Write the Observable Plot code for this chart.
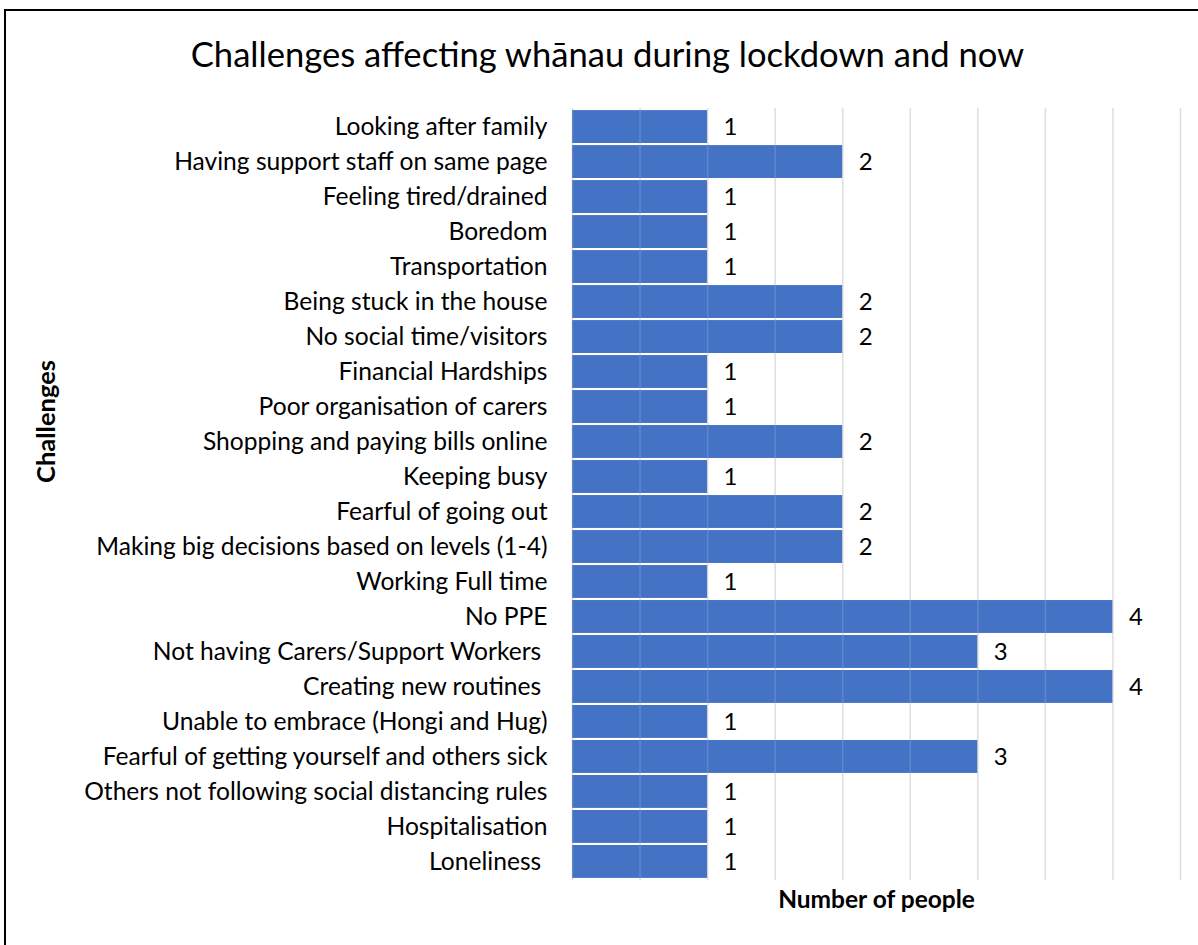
<!DOCTYPE html>
<html>
<head>
<meta charset="utf-8">
<script src="https://cdn.jsdelivr.net/npm/d3@7"></script>
<script src="https://cdn.jsdelivr.net/npm/@observablehq/plot@0.6"></script>
<style>
  html, body { margin: 0; padding: 0; background: #fff; }
  #wrap { position: relative; width: 1198px; height: 945px; overflow: hidden; }
  #border { position: absolute; left: 4px; top: 9px; width: 1300px; height: 1000px;
            border-left: 2px solid #000; border-top: 2px solid #000; pointer-events: none; }
  .ylab text { white-space: pre; }
</style>
</head>
<body>
<div id="wrap"><div id="border"></div></div>
<script>
const categories = [
  "Looking after family",
  "Having support staff on same page",
  "Feeling tired/drained",
  "Boredom",
  "Transportation",
  "Being stuck in the house",
  "No social time/visitors",
  "Financial Hardships",
  "Poor organisation of carers",
  "Shopping and paying bills online",
  "Keeping busy",
  "Fearful of going out",
  "Making big decisions based on levels (1-4)",
  "Working Full time",
  "No PPE",
  "Not having Carers/Support Workers ",
  "Creating new routines ",
  "Unable to embrace (Hongi and Hug)",
  "Fearful of getting yourself and others sick",
  "Others not following social distancing rules",
  "Hospitalisation",
  "Loneliness "
];
const values = [1, 2, 1, 1, 1, 2, 2, 1, 1, 2, 1, 2, 2, 1, 4, 3, 4, 1, 3, 1, 1, 1];
const gridTicks = [0, 0.5, 1, 1.5, 2, 2.5, 3, 3.5, 4, 4.5];
const title = "Challenges affecting whānau during lockdown and now";
const xTitle = "Number of people";
const yTitle = "Challenges";

const data = categories.map((c, i) => ({label: c, value: values[i]}));

const chart = Plot.plot({
  width: 1198,
  height: 945,
  marginLeft: 572,
  marginRight: 18,
  marginTop: 108,
  marginBottom: 65,
  style: {fontFamily: "Lato, 'Open Sans', sans-serif", fontSize: "24px", background: "transparent", color: "#000"},
  x: {domain: [0, 4.5], axis: null},
  y: {domain: categories, padding: 0.06, round: false, axis: null},
  marks: [
    Plot.gridX(gridTicks, {stroke: "#d9d9d9", strokeOpacity: 1, strokeWidth: 1.5}),
    Plot.barX(data, {x: "value", y: "label", fill: "#4472c4"}),
    Plot.gridX(gridTicks, {stroke: "#ffffff", strokeOpacity: 0.15, strokeWidth: 1.5}),
    Plot.axisY({tickSize: 0, tickPadding: 25, fontSize: 24.6, className: "ylab", label: null}),
    Plot.text(data, {x: "value", y: "label", text: d => String(d.value), dx: 16, textAnchor: "start", fontSize: 24, fill: "#000"}),
    Plot.text([title], {frameAnchor: "top", lineAnchor: "middle", dx: -269, dy: -53, fontSize: 34.6, fill: "#000"}),
    Plot.text([xTitle], {frameAnchor: "bottom", lineAnchor: "middle", dy: 20, fontSize: 24.5, fontWeight: "bold", fill: "#000"}),
    Plot.text([yTitle], {frameAnchor: "left", textAnchor: "middle", lineAnchor: "middle", dx: -526, dy: -73, rotate: -90, fontSize: 25.5, fontWeight: "bold", fill: "#000"})
  ]
});
document.getElementById("wrap").prepend(chart);
</script>
</body>
</html>
